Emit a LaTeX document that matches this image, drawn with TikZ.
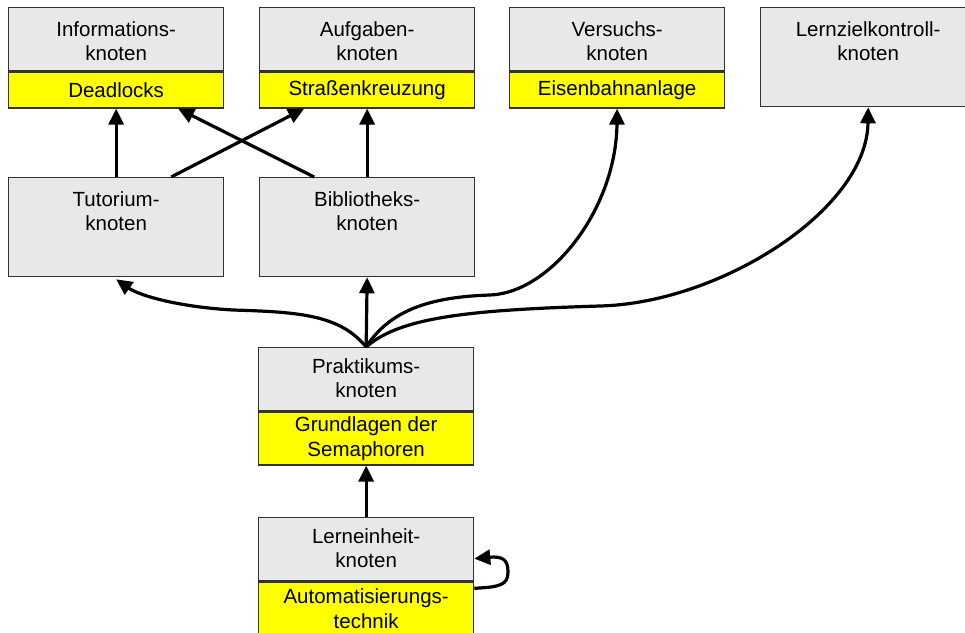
\documentclass[tikz,border=0pt]{standalone}
\usepackage{fontspec}
\setmainfont{Liberation Sans}
\usetikzlibrary{arrows.meta}

\definecolor{boxgrey}{RGB}{232,232,232}
\definecolor{boxyellow}{RGB}{255,255,0}
\definecolor{edgec}{RGB}{50,50,50}

\tikzset{
  box/.style={draw=edgec, line width=1.3pt, fill=boxgrey, minimum width=215pt,
              inner sep=0pt, anchor=north west},
  greybox/.style={box, minimum height=63pt},
  tallbox/.style={box, minimum height=99pt},
  ybox/.style={box, fill=boxyellow, anchor=north, align=center},
  head/.style={anchor=north, align=center, inner sep=0pt},
  conn/.style={line width=3.2pt, -{Triangle[length=16pt,width=15pt]}},
}

\begin{document}
\begin{tikzpicture}[x=1pt, y=-1pt,
  every node/.append style={font=\fontsize{20.5}{24.7}\selectfont}]
\useasboundingbox (0,0) rectangle (965,632);
\clip (0,0) rectangle (965,632);

% top row: content nodes
\node[greybox, label={[head, yshift=-14pt]north:Informations-\\knoten}] (inf) at (8,7) {};
\node[ybox, minimum height=36pt] (infy) at (inf.south) {Deadlocks};

\node[greybox, label={[head, yshift=-14pt]north:Aufgaben-\\knoten}] (auf) at (259,7) {};
\node[ybox, minimum height=36pt] (aufy) at (auf.south) {Straßenkreuzung};

\node[greybox, label={[head, yshift=-14pt]north:Versuchs-\\knoten}] (ver) at (509,7) {};
\node[ybox, minimum height=36pt] (very) at (ver.south) {Eisenbahnanlage};

\node[tallbox, label={[head, yshift=-14pt]north:Lernzielkontroll-\\knoten}] (lzk) at (760,7) {};

% second row
\node[tallbox, label={[head, yshift=-14pt]north:Tutorium-\\knoten}] (tut) at (8,177) {};
\node[tallbox, label={[head, yshift=-14pt]north:Bibliotheks-\\knoten}] (bib) at (259,177) {};

% practical unit
\node[greybox, label={[head, yshift=-11pt]north:Praktikums-\\knoten}] (prak) at (258,347) {};
\node[ybox, minimum height=53pt] (praky) at (prak.south) {Grundlagen der\\Semaphoren};

% learning unit
\node[greybox, label={[head, yshift=-11pt]north:Lerneinheit-\\knoten}] (lern) at (258,517) {};
\node[ybox, minimum height=53pt] (lerny) at (lern.south) {Automatisierungs-\\technik};

% straight links between the upper rows
\draw[conn] (tut.north) -- (infy.south);
\draw[conn] ([xshift=55pt]tut.north) -- ([xshift=-63pt]aufy.south);
\draw[conn] ([xshift=-53pt]bib.north) -- ([xshift=62pt]infy.south);
\draw[conn] (bib.north) -- (aufy.south);

% links fanning out of the practical unit
\draw[conn] (prak.north) -- (bib.south);
\draw[conn] (prak.north) .. controls (340,315) and (300,312) .. (233,310)
                          .. controls (180,307) and (140,296) .. ([yshift=-2pt]tut.south);
\draw[conn] (prak.north) .. controls (390,310) and (430,297) .. (490,295)
                          .. controls (550,293) and (616,210) .. (very.south);
\draw[conn] (prak.north) .. controls (400,317) and (470,310) .. (600,306)
                          .. controls (720,303) and (867,210) .. (lzk.south);

% learning unit leads to the practical unit
\draw[conn] (lern.north) -- (praky.south);

% self loop of the learning unit
\draw[conn] ([yshift=-7pt]lerny.north east)
   .. controls (500,587) and (508,585) .. (508,572)
   .. controls (508,560) and (503,556) .. ([yshift=-9.5pt]lern.east);

\end{tikzpicture}
\end{document}
